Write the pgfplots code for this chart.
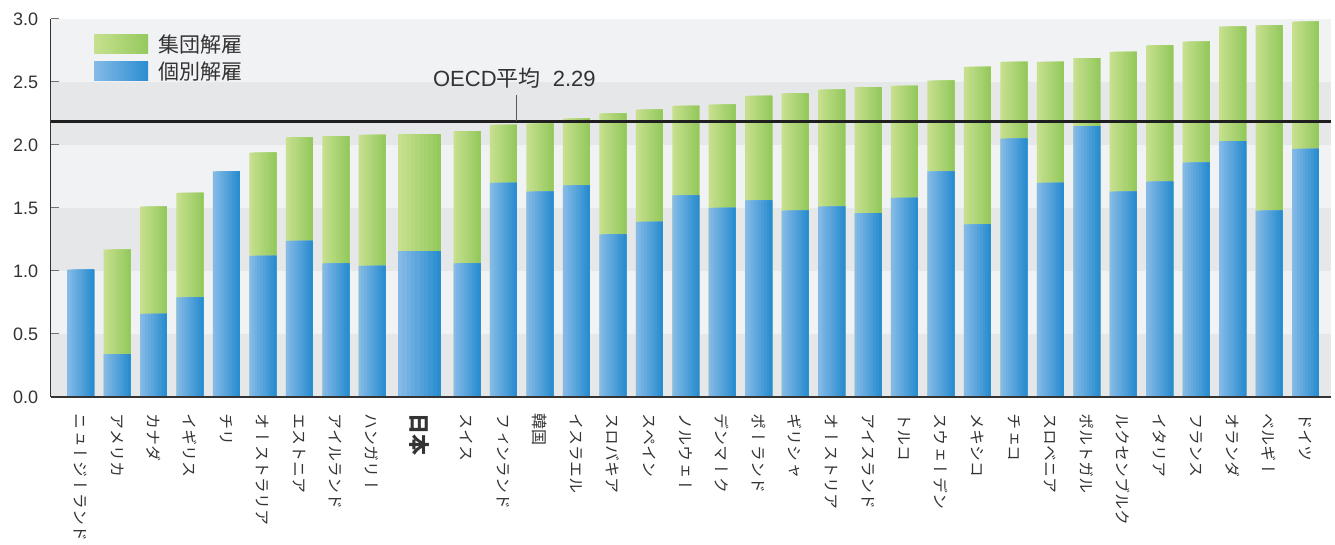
\documentclass[border=0pt]{standalone}
\usepackage{fontspec}
\usepackage{pgfplots}
\usepackage{pgfplotstable}
\pgfplotsset{compat=1.18}
\setmainfont{Liberation Sans}
\newfontfamily\cjk{Noto Sans CJK JP}
\newfontfamily\cjkv[Vertical=RotatedGlyphs]{Noto Sans CJK JP}

\definecolor{gL}{HTML}{C6E08E}
\definecolor{gR}{HTML}{95C95E}
\definecolor{bL}{HTML}{84BAE6}
\definecolor{bR}{HTML}{2A8DD0}
\definecolor{bandA}{HTML}{E6E7E9}
\definecolor{bandB}{HTML}{F1F2F4}
\definecolor{txt}{HTML}{333333}
% colour steps for the left-to-right gradient of each bar
\colorlet{gS0}{gL}         \colorlet{bS0}{bL}
\colorlet{gS1}{gR!11!gL}   \colorlet{bS1}{bR!11!bL}
\colorlet{gS2}{gR!22!gL}   \colorlet{bS2}{bR!22!bL}
\colorlet{gS3}{gR!33!gL}   \colorlet{bS3}{bR!33!bL}
\colorlet{gS4}{gR!44!gL}   \colorlet{bS4}{bR!44!bL}
\colorlet{gS5}{gR!56!gL}   \colorlet{bS5}{bR!56!bL}
\colorlet{gS6}{gR!67!gL}   \colorlet{bS6}{bR!67!bL}
\colorlet{gS7}{gR!78!gL}   \colorlet{bS7}{bR!78!bL}
\colorlet{gS8}{gR!89!gL}   \colorlet{bS8}{bR!89!bL}
\colorlet{gS9}{gR}         \colorlet{bS9}{bR}

% collective dismissal (total height)
\pgfplotstableread{
x t
1 1.17
2 1.51
3 1.62
5 1.94
6 2.06
7 2.07
8 2.08
10.6 2.11
11.6 2.16
12.6 2.17
13.6 2.21
14.6 2.25
15.6 2.28
16.6 2.31
17.6 2.32
18.6 2.39
19.6 2.41
20.6 2.44
21.6 2.46
22.6 2.47
23.6 2.51
24.6 2.62
25.6 2.66
26.6 2.66
27.6 2.69
28.6 2.74
29.6 2.79
30.6 2.82
31.6 2.94
32.6 2.95
33.6 2.98
}\gtab
% individual dismissal
\pgfplotstableread{
x t
0 1.01
1 0.34
2 0.66
3 0.79
4 1.79
5 1.12
6 1.24
7 1.06
8 1.04
10.6 1.06
11.6 1.70
12.6 1.63
13.6 1.68
14.6 1.29
15.6 1.39
16.6 1.60
17.6 1.50
18.6 1.56
19.6 1.48
20.6 1.51
21.6 1.46
22.6 1.58
23.6 1.79
24.6 1.37
25.6 2.05
26.6 1.70
27.6 2.15
28.6 1.63
29.6 1.71
30.6 1.86
31.6 2.03
32.6 1.48
33.6 1.97
}\btab
% Japan
\pgfplotstableread{
x g b
9.3 2.09 1.16
}\jtab

\begin{document}
\begin{tikzpicture}
\begin{axis}[
  scale only axis, width=1280.3pt, height=378pt,
  xmin=-0.82, xmax=34.3, ymin=0, ymax=3,
  axis x line*=bottom, axis y line*=left,
  axis line style={draw=black!80, line width=1.3pt},
  axis on top,
  ytick={0,0.5,1,1.5,2,2.5,3},
  /pgf/number format/assume math mode=true,
  yticklabel style={/pgf/number format/.cd, fixed, fixed zerofill, precision=1, /tikz/.cd,
    font=\fontsize{18}{18}\selectfont, text=txt, xshift=-9pt},
  y tick style={draw=black!55, line width=1pt},
  tick align=inside, major tick length=8pt,
  x tick style={draw=none},
  xtick={0,1,2,3,4,5,6,7,8,9.3,10.6,11.6,12.6,13.6,14.6,15.6,16.6,17.6,18.6,19.6,20.6,21.6,22.6,23.6,24.6,25.6,26.6,27.6,28.6,29.6,30.6,31.6,32.6,33.6},
  xticklabels={ニュージーランド,アメリカ,カナダ,イギリス,チリ,オーストラリア,エストニア,アイルランド,ハンガリー,{\bfseries\fontsize{21}{21}\selectfont 日本},スイス,フィンランド,韓国,イスラエル,スロバキア,スペイン,ノルウェー,デンマーク,ポーランド,ギリシャ,オーストリア,アイスランド,トルコ,スウェーデン,メキシコ,チェコ,スロベニア,ポルトガル,ルクセンブルク,イタリア,フランス,オランダ,ベルギー,ドイツ},
  xticklabel style={font=\cjkv\fontsize{16}{16}\selectfont, rotate=-90, anchor=west, inner xsep=0pt, inner ysep=0pt, xshift=8pt, text=txt},
  ybar, bar width=0.74,
  legend style={at={(rel axis cs:0,1)}, anchor=north west, xshift=43.3pt, yshift=-15pt,
    draw=none, fill=none, inner sep=0pt, row sep=8pt,
    font=\cjk\fontsize{21}{21}\selectfont, text=txt,
    nodes={inner sep=0pt},
    /tikz/every odd column/.append style={column sep=10pt}},
  legend cell align=left,
]
% background bands
\fill[bandA] (axis cs:-0.82,0) rectangle (axis cs:34.3,0.5);
\fill[bandB] (axis cs:-0.82,0.5) rectangle (axis cs:34.3,1.0);
\fill[bandA] (axis cs:-0.82,1.0) rectangle (axis cs:34.3,1.5);
\fill[bandB] (axis cs:-0.82,1.5) rectangle (axis cs:34.3,2.0);
\fill[bandA] (axis cs:-0.82,2.0) rectangle (axis cs:34.3,2.5);
\fill[bandB] (axis cs:-0.82,2.5) rectangle (axis cs:34.3,3.0);

\addlegendimage{legend image code/.code={\path[draw=none, left color=gL, right color=gR] (0pt,-9pt) rectangle (54pt,10pt);}}
\addlegendentry{集団解雇}
\addlegendimage{legend image code/.code={\path[draw=none, left color=bL, right color=bR] (0pt,-9pt) rectangle (54pt,10pt);}}
\addlegendentry{個別解雇}

% bars: each drawn as narrowing strips so that every bar runs light to dark
\pgfplotsinvokeforeach{0,...,9}{
  \addplot[draw=none, fill=gS#1, bar width={0.74-#1*0.074}, bar shift={#1*0.037}, forget plot]
    table[x=x, y=t] {\gtab};
}
\pgfplotsinvokeforeach{0,...,9}{
  \addplot[draw=none, fill=bS#1, bar width={0.74-#1*0.074}, bar shift={#1*0.037}, forget plot]
    table[x=x, y=t] {\btab};
}
\pgfplotsinvokeforeach{0,...,9}{
  \addplot[draw=none, fill=gS#1, bar width={1.18-#1*0.118}, bar shift={#1*0.059}, forget plot]
    table[x=x, y=g] {\jtab};
  \addplot[draw=none, fill=bS#1, bar width={1.18-#1*0.118}, bar shift={#1*0.059}, forget plot]
    table[x=x, y=b] {\jtab};
}

% OECD average
\draw[black!88, line width=3pt] (axis cs:-0.82,2.19) -- (axis cs:34.3,2.19);
\draw[black!65, line width=1pt] (axis cs:11.96,2.19) -- (axis cs:11.96,2.40);
\node[font=\fontsize{22}{22}\selectfont, text=txt] at (axis cs:11.9,2.53) {OECD{\cjk 平均}\ \ 2.29};
\end{axis}
\pgfresetboundingbox
\path (current axis.south west) ++(-50.7pt,-148pt) rectangle ++(1335pt,545pt);
\end{tikzpicture}
\end{document}
